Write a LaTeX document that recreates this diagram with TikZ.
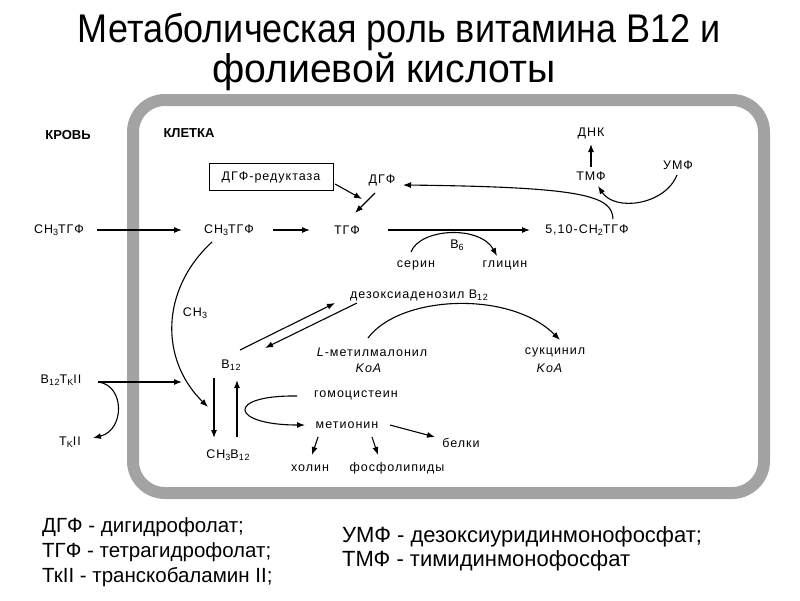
\documentclass[tikz,border=0pt]{standalone}
\usepackage{fontspec}
\setmainfont{Liberation Sans}
\newfontfamily\titlefont{Liberation Sans}[FakeStretch=0.9]
\newfontfamily\diafont{Liberation Sans}[LetterSpace=8]
\usetikzlibrary{arrows.meta,calc}
\newcommand\lo[1]{\raisebox{-0.35ex}{\fontsize{9}{9}\selectfont #1}}
\begin{document}
\begin{tikzpicture}[x=1pt,y=-1pt,
  lbl/.style={inner sep=1pt,font=\diafont\fontsize{12.5}{14}\selectfont},
  bold/.style={inner sep=1pt,font=\fontsize{13}{14}\selectfont\bfseries},
  leg/.style={anchor=west,inner sep=0pt,font=\fontsize{20.5}{24}\selectfont},
  legr/.style={anchor=west,inner sep=0pt,font=\fontsize{22}{26}\selectfont},
  ttl/.style={inner sep=0pt,anchor=base,font=\titlefont\fontsize{40}{44}\selectfont},
  arr/.style={line width=1.1pt,-{Latex[length=8pt,width=6pt]}},
  cell/.style={line width=12pt,draw=black!36,rounded corners=32pt}]
\useasboundingbox (0,0) rectangle (800,600);
% title
\node[ttl] (t1) at (399,42) {Метаболическая роль витамина B12 и};
\node[ttl,font=\titlefont\fontsize{40}{44}\selectfont\addfontfeature{FakeStretch=0.98}] (t2) at (384,82) {фолиевой кислоты};
% cell membrane
\draw[cell] (133,100) rectangle (764,493);
% labels
\node[bold] (krov) at (68,135) {КРОВЬ};
\node[bold] (kletka) at (189,133) {КЛЕТКА};
\node[lbl,draw,line width=0.8pt,minimum width=124pt,minimum height=27pt] (dgfr) at (271,177) {ДГФ-редуктаза};
\node[lbl] (dgf) at (382,180) {ДГФ};
\node[lbl] (ch3tgfA) at (59,230) {CH\lo{3}ТГФ};
\node[lbl] (ch3tgfB) at (229,230) {CH\lo{3}ТГФ};
\node[lbl] (tgf) at (347,230) {ТГФ};
\node[lbl] (ch2tgf) at (587,230) {5,10-CH\lo{2}ТГФ};
\node[lbl] (serin) at (416,265) {серин};
\node[lbl] (glicin) at (505,265) {глицин};
\node[lbl] (b6) at (457,245) {B\lo{6}};
\node[lbl] (tmf) at (591,176) {ТМФ};
\node[lbl] (dnk) at (591,133) {ДНК};
\node[lbl] (umf) at (678,165) {УМФ};
\node[lbl] (ch3) at (195,313) {CH\lo{3}};
\node[lbl] (b12) at (231,365) {B\lo{12}};
\node[lbl] (b12tk) at (61,380) {B\lo{12}T\lo{K}II};
\node[lbl] (tk) at (70,442) {T\lo{K}II};
\node[lbl] (ch3b12) at (228,455) {CH\lo{3}B\lo{12}};
\node[lbl] (dezoks) at (419,295) {дезоксиаденозил B\lo{12}};
\node[lbl] (lmet) at (372,352) {\textit{L}-метилмалонил};
\node[lbl] (koa1) at (369,368) {\textit{KoA}};
\node[lbl] (sukc) at (555,352) {сукцинил};
\node[lbl] (koa2) at (550,368) {\textit{KoA}};
\node[lbl] (homo) at (356,395) {гомоцистеин};
\node[lbl] (met) at (347,425) {метионин};
\node[lbl] (belki) at (461,443) {белки};
\node[lbl] (holin) at (310,468) {холин};
\node[lbl] (fosfo) at (397,468) {фосфолипиды};
% connectors
\draw[arr] ($(ch3tgfA)+(38,0)$) -- ($(ch3tgfB)+(-47,0)$);
\draw[arr] ($(ch3tgfB)+(44,0)$) -- ($(tgf)+(-37,0)$);
\draw[arr] ($(tgf)+(41,0)$) -- ($(ch2tgf)+(-57,0)$);
\draw[arr] ($(dgfr)+(64,7)$) -- ($(tgf)+(15,-31)$);
\draw[arr] ($(dgf)+(-7,13)$) -- ($(tgf)+(8,-17)$);
\draw[arr] ($(ch2tgf)+(26,-11)$) .. controls (612,196) and (585,187) .. ($(dgf)+(21,5)$);
\draw[arr] ($(umf)+(-1,10)$) .. controls (665,205) and (615,212) .. ($(tmf)+(7,10)$);
\draw[arr] ($(tmf)+(0,-9)$) -- ($(dnk)+(0,11)$);
\draw[arr] ($(serin)+(-5,-13)$) .. controls (420,228) and (480,225) .. ($(glicin)+(-8,-9)$);
\draw[arr] ($(ch3tgfB)+(-17,12)$) .. controls (160,290) and (160,360) .. ($(ch3b12)+(-20,-48)$);
\draw[arr] ($(b12tk)+(37,2)$) -- ($(b12tk)+(121,2)$);
\draw[arr] ($(b12tk)+(37,2)$) .. controls (125,385) and (125,430) .. ($(tk)+(23,-4)$);
\draw[arr] ($(b12)+(-17,13)$) -- ($(ch3b12)+(-14,-17)$);
\draw[arr] ($(ch3b12)+(9,-18)$) -- ($(b12)+(6,15)$);
\draw[arr] ($(b12)+(9,-15)$) -- ($(dezoks)+(-84,8)$);
\draw[arr] ($(dezoks)+(-62,8)$) -- ($(b12)+(34,-17)$);
\draw[arr] ($(lmet)+(-4,-14)$) .. controls (400,295) and (510,290) .. ($(sukc)+(5,-12)$);
\draw[arr] ($(homo)+(-59,1)$) .. controls (225,395) and (230,425) .. ($(met)+(-42,0)$);
\draw[arr] ($(met)+(43,0)$) -- ($(belki)+(-26,-6)$);
\draw[arr] ($(met)+(-29,12)$) -- ($(holin)+(2,-13)$);
\draw[arr] ($(met)+(25,12)$) -- ($(fosfo)+(-19,-13)$);
% legend
\node[leg] (l1) at (42,527) {ДГФ - дигидрофолат;};
\node[leg] (l2) at (42,552) {ТГФ - тетрагидрофолат;};
\node[leg] (l3) at (42,577) {ТкII - транскобаламин II;};
\node[legr] (l4) at (342,537) {УМФ - дезоксиуридинмонофосфат;};
\node[legr] (l5) at (342,561) {ТМФ - тимидинмонофосфат};
\end{tikzpicture}
\end{document}
